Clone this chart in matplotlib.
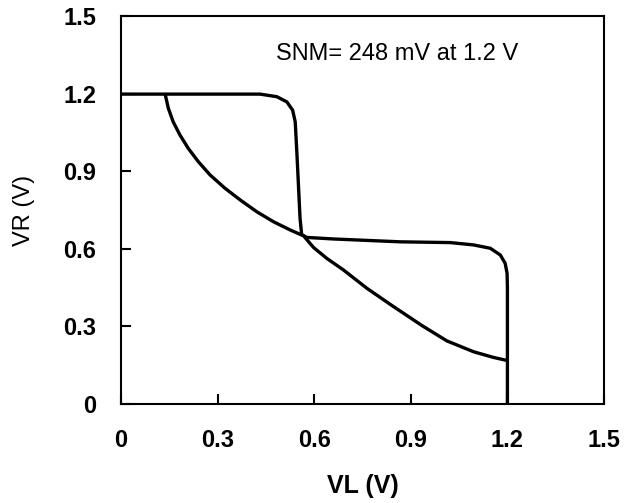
import matplotlib
matplotlib.use('Agg')
import matplotlib.pyplot as plt
import numpy as np

plt.rcParams['font.family'] = ['Liberation Sans', 'DejaVu Sans']

# butterfly curve data (VL, VR)
vtc1_x = [0.0, 0.432, 0.484, 0.515, 0.533, 0.541, 0.546, 0.551, 0.556, 0.561, 0.577,
          0.66, 0.867, 1.023, 1.095, 1.147, 1.178, 1.193, 1.199, 1.2, 1.2]
vtc1_y = [1.198, 1.198, 1.188, 1.168, 1.136, 1.091, 0.975, 0.847, 0.718, 0.655, 0.644,
          0.638, 0.627, 0.624, 0.615, 0.602, 0.576, 0.544, 0.505, 0.45, 0.0]

vtc2_x = [0.137, 0.147, 0.162, 0.183, 0.209, 0.240, 0.277, 0.323, 0.370, 0.422,
          0.473, 0.525, 0.567, 0.598, 0.639, 0.691, 0.764, 0.847, 0.935, 1.012,
          1.095, 1.157, 1.2]
vtc2_y = [1.198, 1.143, 1.091, 1.040, 0.988, 0.937, 0.885, 0.834, 0.789, 0.743,
          0.705, 0.673, 0.650, 0.605, 0.563, 0.518, 0.447, 0.376, 0.303, 0.244,
          0.202, 0.180, 0.168]

ticks = [0, 0.3, 0.6, 0.9, 1.2, 1.5]
tick_labels = ['0', '0.3', '0.6', '0.9', '1.2', '1.5']
snm_text = 'SNM= 248 mV at 1.2 V'

fig = plt.figure(figsize=(6.28, 5.03), dpi=100)
ax = fig.add_axes([0.1927, 0.1968, 0.7691, 0.7714])

ax.plot(vtc1_x, vtc1_y, color='black', linewidth=2.4, solid_capstyle='butt',
        solid_joinstyle='round')
ax.plot(vtc2_x, vtc2_y, color='black', linewidth=2.4, solid_capstyle='butt',
        solid_joinstyle='round')

ax.set_xlim(0, 1.5)
ax.set_ylim(0, 1.5)
ax.set_xticks(ticks)
ax.set_yticks(ticks)
ax.set_xticklabels(tick_labels, fontsize=17, fontweight='bold')
ax.set_yticklabels(tick_labels, fontsize=17, fontweight='bold')
ax.tick_params(direction='in', length=7, width=1.5, pad=18)

for sp in ax.spines.values():
    sp.set_linewidth(1.5)

ax.set_xlabel('VL (V)', fontsize=18, fontweight='bold', labelpad=16)
ax.set_ylabel('VR (V)', fontsize=17, labelpad=20)

ax.text(0.857, 1.353, snm_text, fontsize=17, ha='center', va='center')

fig.savefig('out.png', dpi=100)
